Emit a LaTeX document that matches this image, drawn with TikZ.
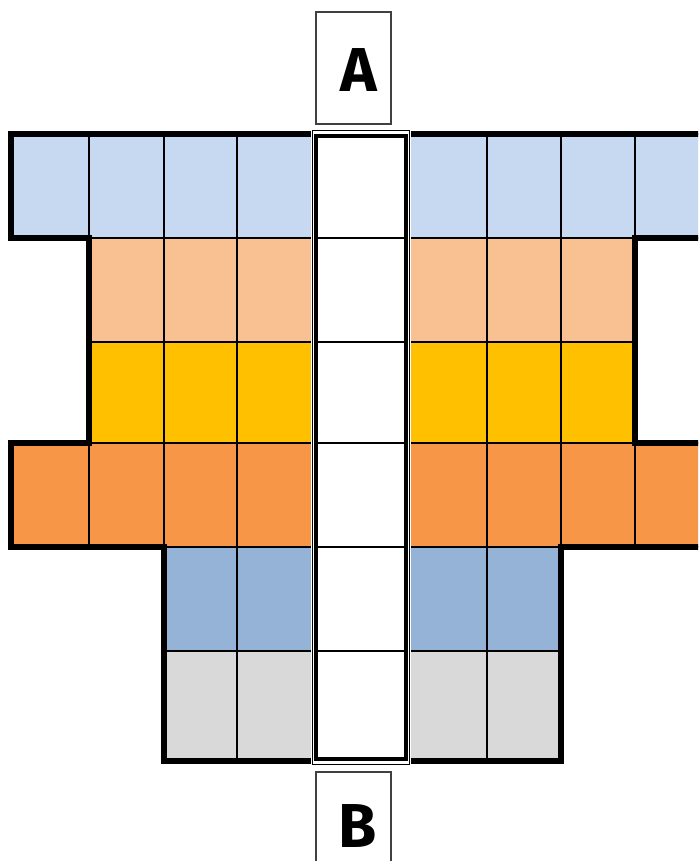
\documentclass[tikz,border=0pt]{standalone}
\usepackage{fontspec}
\newfontfamily\labfont{Fira Sans}
\definecolor{lb}{HTML}{C6D9F0}
\definecolor{peach}{HTML}{F9C191}
\definecolor{yel}{HTML}{FFC000}
\definecolor{org}{HTML}{F79646}
\definecolor{blu}{HTML}{95B3D7}
\definecolor{gry}{HTML}{D9D9D9}
\tikzset{
  cell/.style={draw=black, line width=1.6pt},
  outline/.style={draw=black, line width=6pt, line join=miter},
  labbox/.style={draw=black!75, line width=1.2pt},
  lab/.style={font=\labfont\bfseries\fontsize{62}{62}\selectfont, inner sep=0pt}
}
\begin{document}
\begin{tikzpicture}[x=1pt,y=-1pt]
\useasboundingbox (0,0) rectangle (698,861);
\clip (0,0) rectangle (698,861);
% row tops: 134 238 342 443 547 651 761
% left columns 11 89 164 237 312 ; right columns 409 487 561 635 711
\foreach \xa/\xb in {11/89,89/164,164/237,237/312,409/487,487/561,561/635,635/711}
  \fill[lb] (\xa,134) rectangle (\xb,238);
\foreach \xa/\xb in {89/164,164/237,237/312,409/487,487/561,561/635}{
  \fill[peach] (\xa,238) rectangle (\xb,342);
  \fill[yel] (\xa,342) rectangle (\xb,443);}
\foreach \xa/\xb in {11/89,89/164,164/237,237/312,409/487,487/561,561/635,635/711}
  \fill[org] (\xa,443) rectangle (\xb,547);
\foreach \xa/\xb in {164/237,237/312,409/487,487/561}{
  \fill[blu] (\xa,547) rectangle (\xb,651);
  \fill[gry] (\xa,651) rectangle (\xb,761);}
% cell lines
\foreach \xa/\xb in {11/89,89/164,164/237,237/312,409/487,487/561,561/635,635/711}{
  \draw[cell] (\xa,134) rectangle (\xb,238);
  \draw[cell] (\xa,443) rectangle (\xb,547);}
\foreach \xa/\xb in {89/164,164/237,237/312,409/487,487/561,561/635}{
  \draw[cell] (\xa,238) rectangle (\xb,342);
  \draw[cell] (\xa,342) rectangle (\xb,443);}
\foreach \xa/\xb in {164/237,237/312,409/487,487/561}{
  \draw[cell] (\xa,547) rectangle (\xb,651);
  \draw[cell] (\xa,651) rectangle (\xb,761);}
% thick outlines
\draw[outline] (312,134) -- (11,134) -- (11,238) -- (89,238) -- (89,443) -- (11,443)
  -- (11,547) -- (164,547) -- (164,761) -- (312,761);
\draw[outline] (409,134) -- (711,134) -- (711,238) -- (635,238) -- (635,443) -- (711,443)
  -- (711,547) -- (561,547) -- (561,761) -- (409,761);
% centre column
\fill[white] (310.5,129) rectangle (410.8,765);
\draw[black, line width=1pt] (312,130.2) rectangle (409.5,764);
\draw[black, line width=3.6pt] (316,136) rectangle (406,759);
\foreach \y in {238,342,443,547,651}
  \draw[black, line width=1.8pt] (316,\y) -- (406,\y);
% labels
\draw[labbox] (316,12) rectangle (391,124);
\node[lab] (A) at (359,70) {A};
\draw[labbox] (316,772) rectangle (391,875);
\node[lab] (B) at (358,826) {B};
\end{tikzpicture}
\end{document}
